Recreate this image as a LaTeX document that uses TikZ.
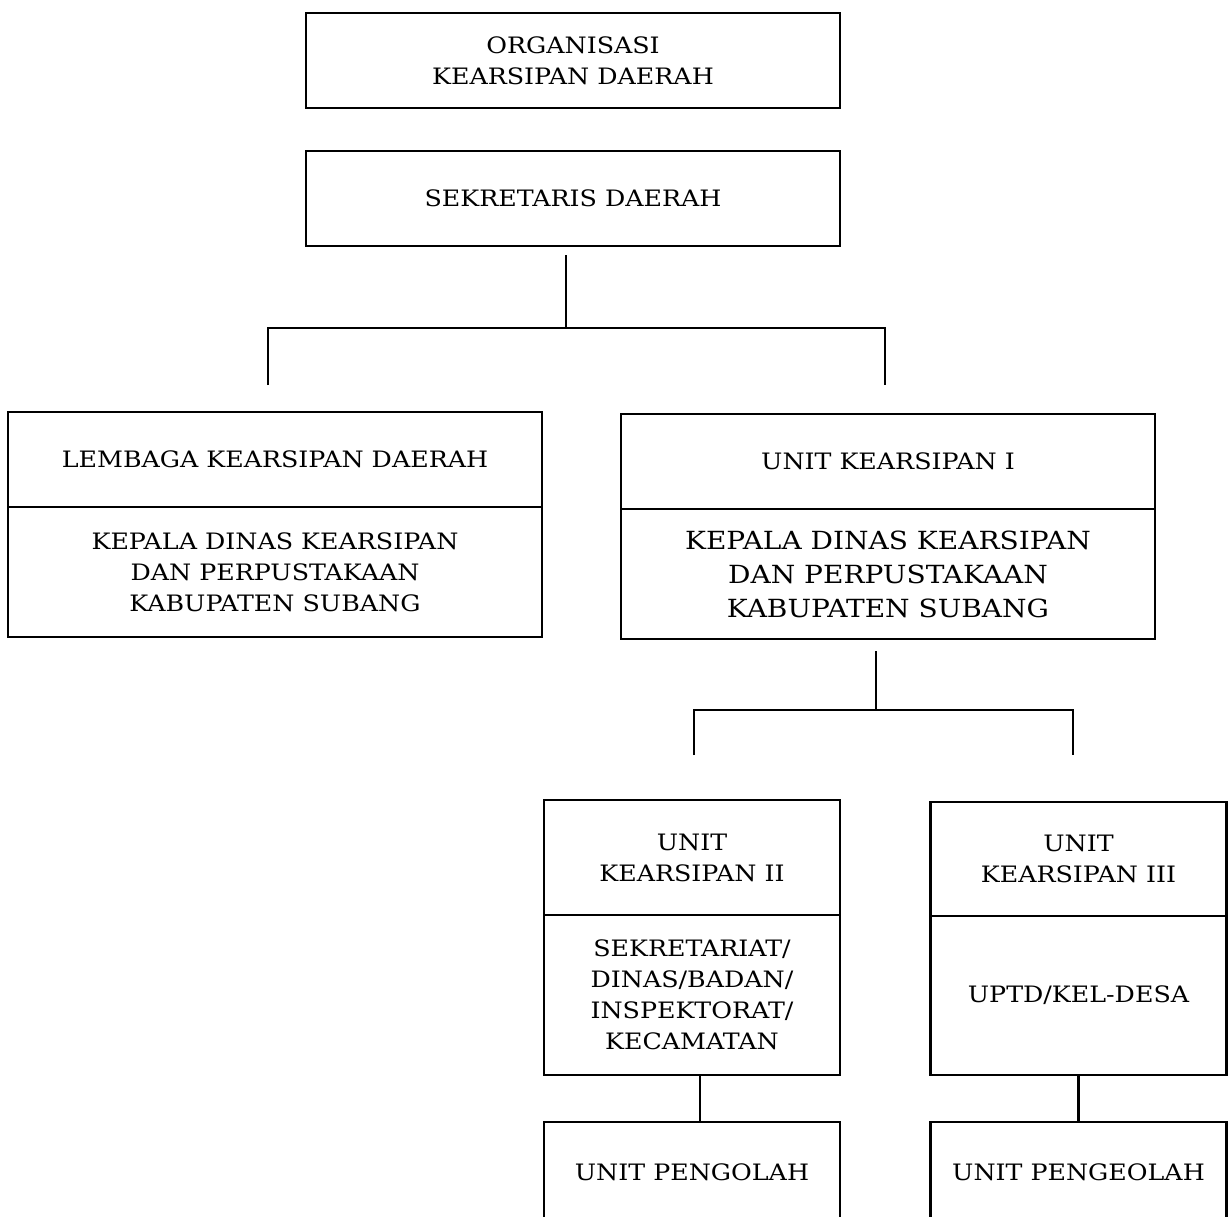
\documentclass[tikz,border=0pt]{standalone}
\usepackage{fontspec}
\setmainfont{DejaVu Serif}[FakeStretch=1.12]
\usetikzlibrary{positioning,calc}

\begin{document}
\begin{tikzpicture}[x=0.5pt, y=-0.5pt, line width=1.1pt,
					wide/.style={minimum width=267pt},
					narrow/.style={minimum width=148pt},
					big/.style={font=\fontsize{12.5}{17}\selectfont}]

    \tikzstyle{every node}=[draw,rectangle,outer sep=0pt,inner sep=2pt,align=center,
    						font=\fontsize{11.3}{15.5}\selectfont]

    \useasboundingbox (0,0) rectangle (1228,1217);
    \clip (0,0) rectangle (1228,1217);

    % top of the chart
    \node[wide,minimum height=47.5pt] (org) at (573,60.5) {ORGANISASI\\KEARSIPAN DAERAH};
    \node[wide,minimum height=47.5pt] (sekda) at (573,198.5) {SEKRETARIS DAERAH};

    % level 1
    \node[wide,minimum height=47.5pt] (lkdTop) at (275,459.5) {LEMBAGA KEARSIPAN DAERAH};
    \node[wide,minimum height=65pt,below=0pt of lkdTop] (lkdBot)
    	{KEPALA DINAS KEARSIPAN\\DAN PERPUSTAKAAN\\KABUPATEN SUBANG};
    \node[wide,minimum height=47.5pt] (uk1Top) at (888,461.5) {UNIT KEARSIPAN I};
    \node[wide,big,minimum height=65pt,below=0pt of uk1Top] (uk1Bot)
    	{KEPALA DINAS KEARSIPAN\\DAN PERPUSTAKAAN\\KABUPATEN SUBANG};

    % level 2
    \node[narrow,minimum height=57.5pt] (uk2Top) at (692,857.5) {UNIT\\KEARSIPAN II};
    \node[narrow,minimum height=80pt,below=0pt of uk2Top] (uk2Bot)
    	{SEKRETARIAT/\\DINAS/BADAN/\\INSPEKTORAT/\\KECAMATAN};
    \node[narrow,minimum height=57pt] (uk3Top) at (1078.5,859) {UNIT\\KEARSIPAN III};
    \node[narrow,minimum height=79.5pt,below=0pt of uk3Top] (uk3Bot) {UPTD/KEL-DESA};

    % level 3
    \node[narrow,minimum height=50pt] (up2) at (692,1172) {UNIT PENGOLAH};
    \node[narrow,minimum height=50pt] (up3) at (1078.5,1172) {UNIT PENGEOLAH};

    % connectors
    \draw ($(sekda.south)+(-7,9)$) -- ++(0,73) coordinate (bus1);
    \draw ($(lkdTop.north)+(-7,-27)$) -- ++(0,-57) -| ($(uk1Top.north)+(-3,-29)$);
    \draw ($(uk1Bot.south)+(-12,12)$) -- ++(0,59) coordinate (bus2);
    \draw ($(uk2Top.north)+(2,-45)$) -- ++(0,-45) -| ($(uk3Top.north)+(-5.5,-47)$);
    \draw ([xshift=4pt]uk2Bot.south) -- ([xshift=4pt]up2.north);
    \draw (uk3Bot.south) -- (up3.north);
\end{tikzpicture}
\end{document}
